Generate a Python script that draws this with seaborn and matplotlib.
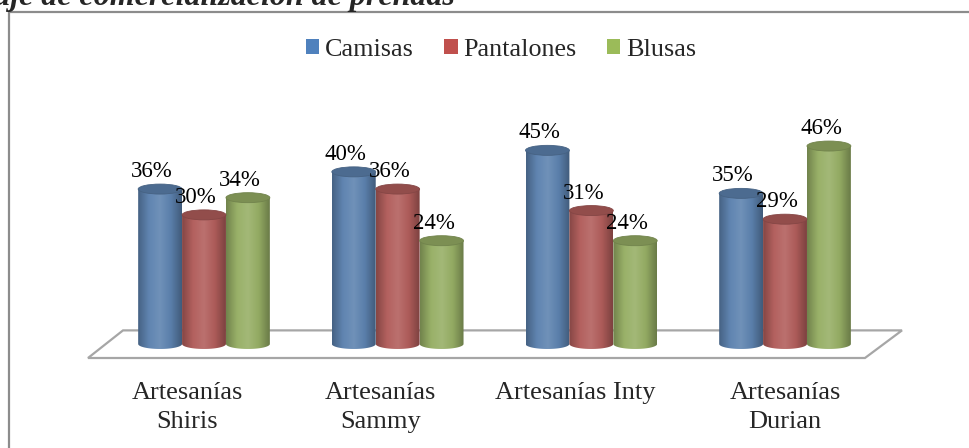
"""
Porcentaje de comercialización de prendas — cylinder-style grouped bars.
"""

import numpy as np
import pandas as pd
import matplotlib
matplotlib.use("Agg")
import matplotlib.pyplot as plt
import seaborn as sns
from matplotlib.patches import Patch, Ellipse, Polygon, PathPatch
from matplotlib.path import Path as MplPath
from matplotlib.lines import Line2D
from matplotlib.colors import LinearSegmentedColormap, to_rgb
import matplotlib.transforms as mtransforms


EMPRESAS   = ["Artesanías\nShiris", "Artesanías\nSammy", "Artesanías Inty", "Artesanías\nDurian"]
PRENDAS    = ["Camisas", "Pantalones", "Blusas"]
CAMISAS    = [36, 40, 45, 35]
PANTALONES = [30, 36, 31, 29]
BLUSAS     = [34, 24, 24, 46]
TITLE      = "Porcentaje de comercialización de prendas"

COLORS = ["#4F81BD", "#C0504D", "#9BBB59"]


def shade(color, f):
    r, g, b = to_rgb(color)
    if f < 1:
        return (r * f, g * f, b * f)
    t = f - 1
    return (r + (1 - r) * t, g + (1 - g) * t, b + (1 - b) * t)


# ── Data ───────────────────────────────────────────────────────────────────────
df = pd.DataFrame({
    "empresa": EMPRESAS * 3,
    "prenda":  [p for p in PRENDAS for _ in EMPRESAS],
    "pct":     CAMISAS + PANTALONES + BLUSAS,
})

sns.set_style("white")
plt.rcParams["font.family"] = ["Liberation Serif", "DejaVu Serif"]

W, H = 970, 448
fig = plt.figure(figsize=(W / 100, H / 100), dpi=100)
ax = fig.add_axes([88 / W, (H - 358) / H, 814 / W, 258 / H])

sns.barplot(data=df, x="empresa", y="pct", hue="prenda", hue_order=PRENDAS,
            order=EMPRESAS, palette=COLORS, width=0.68, errorbar=None,
            legend=False, ax=ax)

XLIM = (-0.599, 3.604)
YLIM = (-3.26, 56.7)
ELL = 10 / 4.3     # height of the cylinder caps in data units

# ── Cylinders ──────────────────────────────────────────────────────────────────
for p in list(ax.patches):
    h = p.get_height()
    if not np.isfinite(h) or h <= 0:
        continue
    x0, w = p.get_x(), p.get_width()
    cx = x0 + w / 2
    base = p.get_facecolor()[:3]
    p.set_visible(False)

    cmap = LinearSegmentedColormap.from_list(
        "cyl", [shade(base, 0.75), shade(base, 1.02), shade(base, 1.12),
                shade(base, 0.97), shade(base, 0.7)])
    grad = np.linspace(0, 1, 128).reshape(1, -1)

    t = np.linspace(np.pi, 2 * np.pi, 40)
    verts = [(x0, h), (x0, 0)] + list(zip(cx + w / 2 * np.cos(t), ELL / 2 * np.sin(t))) \
            + [(x0 + w, h), (x0, h)]
    clip = PathPatch(MplPath(verts), transform=ax.transData, facecolor="none", edgecolor="none")
    ax.add_patch(clip)
    im = ax.imshow(grad, cmap=cmap, extent=[x0, x0 + w, -ELL / 2, h],
                   aspect="auto", zorder=2, interpolation="bicubic")
    im.set_clip_path(clip)

    ax.add_patch(Ellipse((cx, h), w, ELL, facecolor=shade(base, 0.82),
                         edgecolor=shade(base, 0.75), lw=0.6, zorder=3))
    ax.text(cx - 0.041, h + 2.8, f"{h:.0f}%", ha="center", va="baseline",
            fontsize=16.5, color="black", zorder=4)

ax.set_xlim(XLIM)
ax.set_ylim(YLIM)
ax.set_aspect("auto")

# ── Floor ──────────────────────────────────────────────────────────────────────
floor = Polygon([(0, 0), (0.043, 0.107), (1.0, 0.107), (0.9545, 0)], closed=True,
                transform=ax.transAxes, facecolor="white", edgecolor="#A6A6A6",
                lw=1.6, zorder=0, clip_on=False)
ax.add_patch(floor)

# ── Axes styling ───────────────────────────────────────────────────────────────
sns.despine(ax=ax, left=True, bottom=True)
ax.set_yticks([])
ax.set_xlabel("")
ax.set_ylabel("")
ax.tick_params(axis="x", length=0, pad=17, labelsize=19)
for lbl, dx in zip(ax.get_xticklabels(), [-17, -17, -16, 0]):
    lbl.set_linespacing(1.45)
    lbl.set_transform(lbl.get_transform() +
                      mtransforms.ScaledTranslation(dx / 100, 0, fig.dpi_scale_trans))

# ── Legend ─────────────────────────────────────────────────────────────────────
handles = [Patch(facecolor=c, edgecolor="none") for c in COLORS]
fig.legend(handles, PRENDAS, loc="center", bbox_to_anchor=(501 / W, 1 - 50 / H),
           ncol=3, frameon=False, fontsize=18.8, handlelength=0.52, handleheight=0.52,
           handletextpad=0.22, columnspacing=1.15)

# ── Title (cut at top) and frame ───────────────────────────────────────────────
fig.text(455 / W, 1 - 5 / H, TITLE, ha="right", va="baseline", fontsize=23,
         fontweight="bold", fontstyle="italic")
fig.add_artist(Line2D([9 / W, 9 / W], [0, 1 - 12 / H], transform=fig.transFigure,
                      color="#8C8C8C", lw=1.6))
fig.add_artist(Line2D([9 / W, 1], [1 - 12 / H, 1 - 12 / H], transform=fig.transFigure,
                      color="#8C8C8C", lw=1.6))

fig.savefig("out.png", dpi=100)
plt.close(fig)
